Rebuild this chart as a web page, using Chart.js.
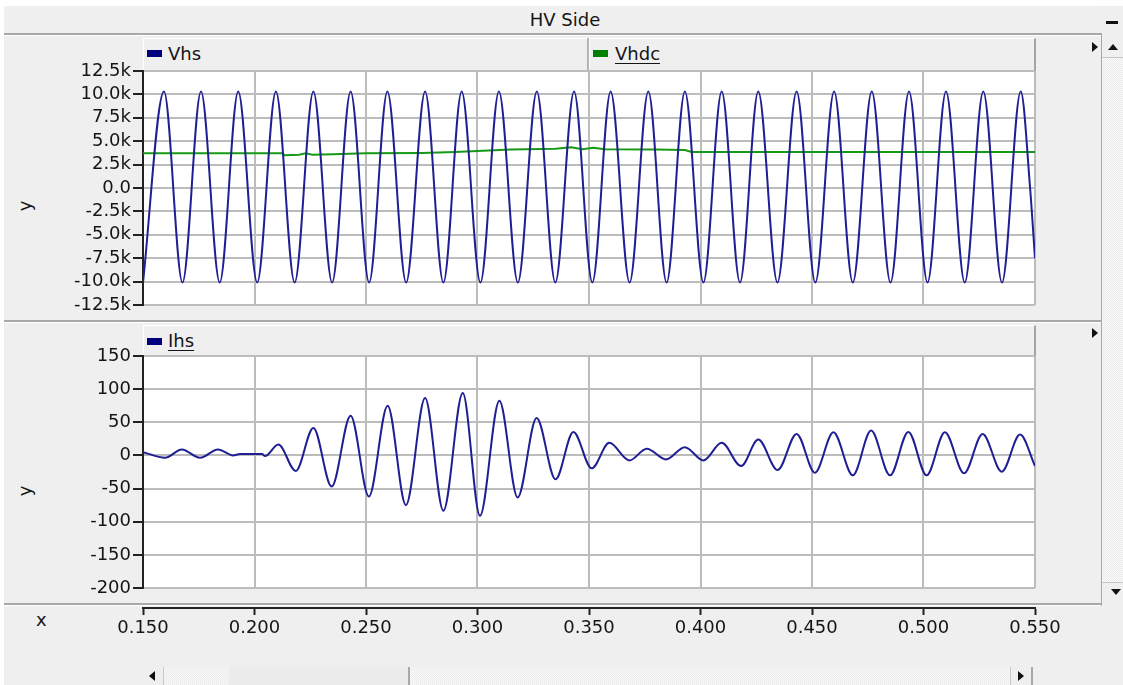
<!DOCTYPE html>
<html>
<head>
<meta charset="utf-8">
<title>HV Side</title>
<script src="https://cdn.jsdelivr.net/npm/chart.js@4.4.1/dist/chart.umd.min.js"></script>
<style>
  html, body { margin: 0; padding: 0; background: #ffffff; }
  #frame { position: relative; width: 1123px; height: 685px; overflow: hidden; background: #ffffff;
           font-family: "DejaVu Sans", Verdana, sans-serif; color: #151515; }
  .abs { position: absolute; box-sizing: border-box; }
  canvas { position: absolute; left: 0; top: 0; }
  .tab { background: #efefef; border-top: 1px solid #ffffff; border-left: 1px solid #ffffff;
         border-right: 2px solid #a4a4a4; }
  .sw { position: absolute; width: 15px; height: 7px; }
  .lbl { position: absolute; font-size: 18px; line-height: 20px; white-space: nowrap; }
  .u { text-decoration: underline; text-underline-offset: 3px; }
  .tri-r { width: 0; height: 0; border-top: 5px solid transparent; border-bottom: 5px solid transparent;
           border-left: 6px solid #111; }
  .tri-l { width: 0; height: 0; border-top: 5px solid transparent; border-bottom: 5px solid transparent;
           border-right: 6px solid #111; }
  .tri-u { width: 0; height: 0; border-left: 5px solid transparent; border-right: 5px solid transparent;
           border-bottom: 6px solid #111; }
  .tri-d { width: 0; height: 0; border-left: 5px solid transparent; border-right: 5px solid transparent;
           border-top: 6px solid #111; }
  .hline { height: 2px; background: #a8a8a8; border-bottom: 1px solid #ffffff; box-sizing: content-box; }
  .track { background: repeating-conic-gradient(#f9f9f9 0% 25%, #ececec 0% 50%) 0 0 / 2px 2px; }
</style>
</head>
<body>
<div id="frame">
  <!-- window body -->
  <div class="abs" style="left:4px;top:6px;width:1119px;height:679px;background:#efefef;"></div>

  <!-- title bar -->
  <div class="abs" style="left:4px;top:6px;width:1097px;height:28px;background:#f0f0f0;"></div>
  <div class="abs hline" style="left:4px;top:33px;width:1097px;"></div>
  <div class="abs lbl" style="left:465px;top:10px;width:200px;text-align:center;">HV Side</div>
  <div class="abs" style="left:1106px;top:21px;width:12px;height:3px;background:#111;"></div>

  <!-- upper panel legend tab -->
  <div class="abs tab" style="left:143px;top:38px;width:893px;height:34px;"></div>
  <div class="abs" style="left:587px;top:38px;width:2px;height:33px;background:#b4b4b4;"></div>
  <div class="abs" style="left:589px;top:38px;width:1px;height:33px;background:#ffffff;"></div>
  <div class="sw" style="left:147px;top:50px;background:#00007f;"></div>
  <div class="abs lbl" style="left:168px;top:44px;">Vhs</div>
  <div class="sw" style="left:593px;top:50px;background:#008000;"></div>
  <div class="abs lbl u" style="left:615px;top:44px;">Vhdc</div>
  <div class="abs tri-r" style="left:1092px;top:42px;"></div>

  <!-- panel separator -->
  <div class="abs hline" style="left:4px;top:320px;width:1097px;"></div>

  <!-- lower panel legend tab -->
  <div class="abs tab" style="left:143px;top:325px;width:893px;height:32px;"></div>
  <div class="sw" style="left:147px;top:338px;background:#00007f;"></div>
  <div class="abs lbl u" style="left:168px;top:331px;">Ihs</div>
  <div class="abs tri-r" style="left:1092px;top:328px;"></div>

  <!-- bottom separator above the time axis -->
  <div class="abs hline" style="left:4px;top:603px;width:1097px;"></div>

  <!-- axis names -->
  <div class="abs lbl" style="left:15px;top:196px;width:20px;text-align:center;transform:rotate(-90deg);">y</div>
  <div class="abs lbl" style="left:15px;top:481px;width:20px;text-align:center;transform:rotate(-90deg);">y</div>
  <div class="abs lbl" style="left:36px;top:610px;">x</div>

  <!-- vertical scrollbar -->
  <div class="abs" style="left:1101px;top:33px;width:1px;height:573px;background:#a8a8a8;"></div>
  <div class="abs track" style="left:1102px;top:58px;width:21px;height:525px;"></div>
  <div class="abs" style="left:1102px;top:36px;width:21px;height:22px;background:#efefef;border-bottom:1px solid #c8c8c8;"></div>
  <div class="abs tri-u" style="left:1108px;top:44px;"></div>
  <div class="abs" style="left:1102px;top:582px;width:21px;height:21px;background:#efefef;border-top:1px solid #c8c8c8;"></div>
  <div class="abs tri-d" style="left:1111px;top:589px;"></div>

  <!-- horizontal scrollbar -->
  <div class="abs track" style="left:143px;top:667px;width:890px;height:18px;"></div>
  <div class="abs" style="left:143px;top:667px;width:21px;height:18px;background:#efefef;border-right:1px solid #c8c8c8;"></div>
  <div class="abs tri-l" style="left:149px;top:671px;"></div>
  <div class="abs" style="left:229px;top:667px;width:181px;height:18px;background:#ececec;border-right:2px solid #a8a8a8;"></div>
  <div class="abs" style="left:1010px;top:667px;width:23px;height:18px;background:#efefef;border-left:1px solid #c8c8c8;border-right:2px solid #a8a8a8;"></div>
  <div class="abs tri-r" style="left:1018px;top:671px;"></div>

  <canvas id="cV" width="1123" height="685"></canvas>
  <canvas id="cI" width="1123" height="685"></canvas>
  <canvas id="cX" width="1123" height="685"></canvas>
</div>

<script>
// Vhs: time (s) and voltage (V) at each crest / trough of the HV-side voltage
const vhsT = [0.1500, 0.1594, 0.1677, 0.1760, 0.1844, 0.1927, 0.2012, 0.2096, 0.2180, 0.2264,
              0.2348, 0.2431, 0.2514, 0.2596, 0.2680, 0.2765, 0.2847, 0.2929, 0.3013, 0.3096,
              0.3181, 0.3266, 0.3349, 0.3433, 0.3515, 0.3597, 0.3682, 0.3766, 0.3848, 0.3930,
              0.4013, 0.4095, 0.4177, 0.4259, 0.4345, 0.4431, 0.4515, 0.4599, 0.4683, 0.4768,
              0.4852, 0.4935, 0.5018, 0.5101, 0.5185, 0.5268, 0.5352, 0.5436, 0.5478, 0.5500];
const vhsV = [-10100, 10300, -10100, 10300, -10100, 10300, -10100, 10300, -10100, 10300,
              -10100, 10300, -10100, 10300, -10100, 10300, -10100, 10300, -10100, 10300,
              -10100, 10300, -10100, 10300, -10100, 10300, -10100, 10300, -10100, 10300,
              -10100, 10300, -10100, 10300, -10100, 10300, -10100, 10300, -10100, 10300,
              -10100, 10300, -10100, 10300, -10100, 10300, -10100, 10300, 0, -7500];

// Vhdc: DC-side voltage (V)
const vhdcT = [0.1500, 0.2125, 0.2135, 0.2200, 0.2230, 0.2260, 0.2350, 0.2500, 0.2750, 0.2900,
               0.3000, 0.3150, 0.3350, 0.3420, 0.3470, 0.3520, 0.3570, 0.3800, 0.3930, 0.3960, 0.5500];
const vhdcV = [3700, 3700, 3500, 3550, 3700, 3550, 3600, 3700, 3750, 3850,
               3950, 4100, 4200, 4350, 4150, 4300, 4150, 4100, 4050, 3850, 3850];

// Ihs: HV-side current (A) at each crest / trough
const ihsT = [0.1500, 0.1599, 0.1674, 0.1756, 0.1836, 0.1904, 0.1935, 0.2034, 0.2047, 0.2107,
              0.2185, 0.2264, 0.2346, 0.2431, 0.2513, 0.2597, 0.2679, 0.2765, 0.2847, 0.2934,
              0.3011, 0.3098, 0.3180, 0.3265, 0.3350, 0.3430, 0.3512, 0.3591, 0.3681, 0.3759,
              0.3845, 0.3930, 0.4013, 0.4095, 0.4182, 0.4259, 0.4346, 0.4431, 0.4513, 0.4596,
              0.4683, 0.4765, 0.4850, 0.4932, 0.5014, 0.5096, 0.5182, 0.5265, 0.5351, 0.5433, 0.5500];
const ihsV = [5, -3.5, 9, -3.5, 9, 0, 2, 2, -1, 16.5,
              -23.5, 41.5, -47, 60, -62, 75, -75, 86.5, -83.5, 94,
              -91, 82.5, -63.5, 56.5, -36, 35.5, -19.5, 19, -7.5, 10,
              -6, 12.5, -7.5, 19, -16, 24, -22, 32.5, -26, 35,
              -30, 37.5, -30, 35.5, -30, 35, -27, 32.5, -24.5, 31.5, -16];

// axis ranges
const timeMin = 0.15, timeMax = 0.55, timeStep = 0.05;
const vMin = -12500, vMax = 12500, vStep = 2500;
const iMin = -200, iMax = 150, iStep = 50;

const pts = (xs, ys) => xs.map((x, i) => ({ x: x, y: ys[i] }));

const FONT = { family: '"DejaVu Sans", Verdana, sans-serif', size: 18 };
const INK = '#151515';
const GRID = '#bcbcbc';

// white plotting field behind the traces
const plotBg = {
  id: 'plotBg',
  beforeDraw(chart) {
    const a = chart.chartArea, ctx = chart.ctx;
    ctx.save();
    ctx.fillStyle = '#ffffff';
    ctx.fillRect(a.left, a.top, a.right - a.left, a.bottom - a.top);
    ctx.restore();
  }
};

function noPad(scale) {
  scale.paddingTop = 0; scale.paddingBottom = 0;
  scale.paddingLeft = 0; scale.paddingRight = 0;
}

function panel(canvasId, datasets, yMin, yMax, yStep, fmt, top, bottom) {
  return new Chart(document.getElementById(canvasId), {
    type: 'line',
    data: { datasets: datasets },
    plugins: [plotBg],
    options: {
      responsive: false,
      animation: false,
      events: [],
      layout: { padding: { left: 0, right: 1123 - 1035, top: top, bottom: 685 - bottom } },
      plugins: { legend: { display: false }, tooltip: { enabled: false } },
      elements: { point: { radius: 0 } },
      scales: {
        x: {
          type: 'linear', min: timeMin, max: timeMax,
          ticks: { display: false, stepSize: timeStep, autoSkip: false },
          grid: { color: GRID, lineWidth: 2, drawTicks: false },
          border: { display: false },
          afterFit(s) { s.height = 0; noPad(s); }
        },
        y: {
          min: yMin, max: yMax,
          ticks: { stepSize: yStep, color: INK, font: FONT, padding: 2, callback: fmt, autoSkip: false },
          grid: { color: GRID, lineWidth: 2, tickLength: 10, tickColor: '#222', tickWidth: 2 },
          border: { color: '#222', width: 2 },
          afterFit(s) { s.width = 143; noPad(s); }
        }
      }
    }
  });
}

const kFmt = v => (v === 0 ? '0.0' : (v / 1000).toFixed(1) + 'k');
const iFmt = v => String(v);

panel('cV', [
  { label: 'Vhs', data: pts(vhsT, vhsV), borderColor: '#1f1f93', borderWidth: 2,
    cubicInterpolationMode: 'monotone' },
  { label: 'Vhdc', data: pts(vhdcT, vhdcV), borderColor: '#159a15', borderWidth: 2, tension: 0 }
], vMin, vMax, vStep, kFmt, 71, 305);

panel('cI', [
  { label: 'Ihs', data: pts(ihsT, ihsV), borderColor: '#1f1f93', borderWidth: 2,
    cubicInterpolationMode: 'monotone' }
], iMin, iMax, iStep, iFmt, 356, 588);

// shared time axis under both panels
new Chart(document.getElementById('cX'), {
  type: 'line',
  data: { datasets: [] },
  options: {
    responsive: false,
    animation: false,
    events: [],
    layout: { padding: { left: 143, right: 1123 - 1035, top: 600, bottom: 0 } },
    plugins: { legend: { display: false }, tooltip: { enabled: false } },
    scales: {
      x: {
        type: 'linear', min: timeMin, max: timeMax,
        ticks: { stepSize: timeStep, color: INK, font: FONT, padding: 3, maxRotation: 0, autoSkip: false,
                 callback: v => v.toFixed(3) },
        grid: { drawOnChartArea: false, drawTicks: true, tickLength: 7, tickColor: '#222', tickWidth: 2 },
        border: { color: '#222', width: 2 },
        afterFit(s) { s.height = 685 - 608; noPad(s); }
      },
      y: { display: false, min: 0, max: 1 }
    }
  }
});
</script>
</body>
</html>
